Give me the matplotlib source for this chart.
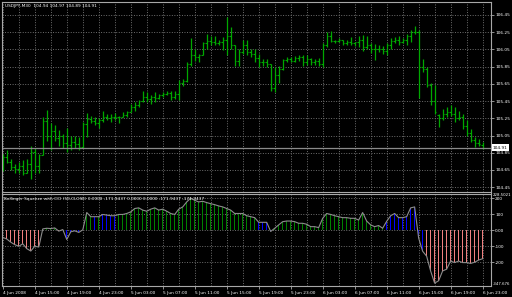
import matplotlib
matplotlib.use("Agg")
import matplotlib.pyplot as plt
import matplotlib.transforms as mtransforms
import numpy as np

symbol_text = "USDJPY,M30  104.94 104.97 104.89 104.91"
indicator_text = ("Bollinger Squeeze with CCI (50,CLOSE) 0.0000 -171.9437 "
                  "0.0000 0.0000 -171.9437 -171.9437")

high = [
    104.84, 104.88, 104.78, 104.72, 104.74, 104.77, 104.78, 104.93, 104.91, 104.84,
    105.26, 105.35, 105.19, 105.17, 105.11, 105.07, 105.14, 105.05, 105.05, 105.03,
    105.21, 105.31, 105.28, 105.26, 105.25, 105.33, 105.30, 105.30, 105.31, 105.28,
    105.32, 105.33, 105.42, 105.44, 105.46, 105.57, 105.56, 105.52, 105.55, 105.53,
    105.55, 105.57, 105.57, 105.57, 105.69, 105.71, 105.90, 106.18, 106.06, 106.00,
    106.14, 106.23, 106.21, 106.21, 106.16, 106.19, 106.43, 106.31, 106.10, 106.06,
    106.16, 106.16, 106.06, 106.06, 106.00, 105.94, 105.94, 105.88, 105.85, 105.86,
    105.94, 105.96, 105.96, 105.97, 105.99, 105.98, 105.98, 105.95, 105.94, 105.95,
    106.12, 106.25, 106.26, 106.16, 106.18, 106.16, 106.16, 106.19, 106.14, 106.20,
    106.22, 106.20, 106.12, 106.11, 106.10, 106.09, 106.12, 106.18, 106.19, 106.21,
    106.18, 106.23, 106.27, 106.32, 106.27, 105.94, 105.85, 105.66, 105.64, 105.30,
    105.36, 105.38, 105.40, 105.38, 105.34, 105.30, 105.23, 105.13, 105.03, 105.01,
    104.97,
]
low = [
    104.64, 104.73, 104.65, 104.61, 104.61, 104.59, 104.61, 104.54, 104.61, 104.62,
    104.82, 104.99, 104.88, 104.99, 104.93, 104.91, 104.86, 104.88, 104.91, 104.88,
    104.90, 105.03, 105.19, 105.17, 105.14, 105.21, 105.23, 105.21, 105.23, 105.19,
    105.26, 105.27, 105.32, 105.34, 105.38, 105.44, 105.44, 105.42, 105.44, 105.47,
    105.50, 105.52, 105.46, 105.47, 105.46, 105.63, 105.67, 105.86, 105.92, 105.90,
    105.98, 106.06, 106.10, 106.10, 106.10, 106.04, 105.98, 106.06, 105.86, 105.86,
    106.00, 105.98, 105.96, 105.90, 105.85, 105.86, 105.85, 105.57, 105.55, 105.66,
    105.81, 105.90, 105.90, 105.90, 105.92, 105.86, 105.87, 105.87, 105.87, 105.86,
    105.84, 106.08, 106.14, 106.12, 106.14, 106.10, 106.10, 106.10, 106.09, 106.08,
    106.03, 106.06, 106.01, 105.93, 106.02, 106.00, 105.98, 106.06, 106.12, 106.10,
    106.12, 106.10, 106.14, 106.23, 105.48, 105.79, 105.61, 105.40, 105.30, 105.15,
    105.23, 105.26, 105.28, 105.21, 105.23, 105.13, 105.05, 104.97, 104.92, 104.93,
    104.89,
]
open_ = [
    104.70, 104.80, 104.74, 104.68, 104.66, 104.70, 104.62, 104.72, 104.86, 104.70,
    104.82, 105.22, 105.05, 105.10, 105.02, 105.05, 104.96, 104.94, 104.98, 104.95,
    104.92, 105.18, 105.24, 105.22, 105.20, 105.23, 105.26, 105.25, 105.27, 105.26,
    105.27, 105.29, 105.32, 105.38, 105.40, 105.45, 105.50, 105.47, 105.50, 105.49,
    105.52, 105.53, 105.54, 105.50, 105.53, 105.66, 105.68, 105.88, 105.98, 105.96,
    105.99, 106.12, 106.15, 106.14, 106.12, 106.14, 106.16, 106.20, 106.10, 105.92,
    106.02, 106.10, 106.02, 106.00, 105.95, 105.90, 105.90, 105.88, 105.60, 105.75,
    105.82, 105.93, 105.94, 105.92, 105.95, 105.96, 105.90, 105.94, 105.90, 105.92,
    105.88, 106.10, 106.20, 106.15, 106.15, 106.16, 106.12, 106.14, 106.12, 106.13,
    106.16, 106.08, 106.10, 106.05, 106.06, 106.05, 106.03, 106.10, 106.15, 106.16,
    106.14, 106.16, 106.20, 106.25, 106.25, 105.85, 105.82, 105.64, 105.45, 105.29,
    105.25, 105.30, 105.32, 105.30, 105.25, 105.26, 105.16, 105.08, 105.00, 104.96,
    104.94,
]
close = [
    104.80, 104.74, 104.68, 104.66, 104.70, 104.62, 104.72, 104.86, 104.70, 104.82,
    105.22, 105.05, 105.10, 105.02, 105.05, 104.96, 104.94, 104.98, 104.95, 104.92,
    105.18, 105.24, 105.22, 105.20, 105.23, 105.26, 105.25, 105.27, 105.26, 105.27,
    105.29, 105.32, 105.38, 105.40, 105.45, 105.50, 105.47, 105.50, 105.49, 105.52,
    105.53, 105.54, 105.50, 105.53, 105.66, 105.68, 105.88, 105.98, 105.96, 105.99,
    106.12, 106.15, 106.14, 106.12, 106.14, 106.16, 106.20, 106.10, 105.92, 106.02,
    106.10, 106.02, 106.00, 105.95, 105.90, 105.90, 105.88, 105.60, 105.75, 105.82,
    105.93, 105.94, 105.92, 105.95, 105.96, 105.90, 105.94, 105.90, 105.92, 105.88,
    106.10, 106.20, 106.15, 106.15, 106.16, 106.12, 106.14, 106.12, 106.13, 106.16,
    106.08, 106.10, 106.05, 106.06, 106.05, 106.03, 106.10, 106.15, 106.16, 106.14,
    106.16, 106.20, 106.25, 106.25, 105.85, 105.82, 105.64, 105.45, 105.32, 105.25,
    105.30, 105.32, 105.30, 105.25, 105.26, 105.16, 105.08, 105.00, 104.96, 104.95,
    104.91,
]
cci = [
    -45, -55, -75, -90, -100, -85, -115, -130, -100, -105,
    8, 12, 10, 14, -6, 4, -58, -10, -4, -14,
    2, 110, 84, 84, 84, 98, 94, 90, 90, 98,
    98, 104, 114, 135, 139, 125, 118, 131, 139, 125,
    131, 118, 104, 98, 131, 145, 176, 200, 186, 176,
    180, 172, 165, 159, 151, 145, 135, 125, 104, 104,
    104, 90, 84, 78, 49, 49, 49, -8, 12, 33,
    53, 57, 57, 53, 43, 43, 37, 22, 22, 16,
    74, 104, 98, 90, 84, 78, 78, 74, 74, 63,
    110, 57, 33, 22, 29, 12, 55, 90, 104, 78,
    78, 84, 139, 145, -49, -131, -162, -254, -330, -315,
    -254, -243, -192, -202, -192, -202, -202, -207, -200, -186,
    -178,
]
cci_state = (
    "rrrrrrrrrr"
    "ggggrgbbbb"
    "gggbgbbbbg"
    "gggggggggg"
    "gggggggggg"
    "gggggggggg"
    "ggggbbbbgg"
    "gggggggggg"
    "gggggggggg"
    "ggggggbbbb"
    "bbbbbbrrrr"
    "rrrrrrrrrr"
    "r"
)

time_labels = ["4 Jun 2008", "4 Jun 15:00", "4 Jun 19:00", "4 Jun 23:00",
               "5 Jun 03:00", "5 Jun 07:00", "5 Jun 11:00", "5 Jun 15:00",
               "5 Jun 19:00", "5 Jun 23:00", "6 Jun 03:00", "6 Jun 07:00",
               "6 Jun 11:00", "6 Jun 15:00", "6 Jun 19:00", "6 Jun 23:00"]
time_label_bars = [0, 8, 16, 24, 32, 40, 48, 56, 64, 72, 80, 88, 96, 104, 112, 120]
price_ticks = [104.45, 104.65, 104.85, 105.05, 105.25, 105.45,
               105.65, 105.85, 106.05, 106.25, 106.45]
cci_ticks = [-200, -100, 0, 100, 200]
cci_tick_labels = ["-200", "-100", "0.00", "100", "200"]
cci_max = 228.5021
cci_min = -347.676
last_price = 104.91

# ---- styling ----
W, H = 512, 297
DPI = 100
FS = 3.1
BG = "black"
FG = "white"
SPINE = "#a8a8a8"
GRID = "#6e6e6e"
BAR_COL = "#00a800"
state_colors = {"r": "#f08080", "g": "#008000", "b": "#0000ff"}

fig = plt.figure(figsize=(W / DPI, H / DPI), dpi=DPI, facecolor=BG)

def px_axes(x0, y0, x1, y1):
    return fig.add_axes([x0 / W, 1 - y1 / H, (x1 - x0) / W, (y1 - y0) / H])

ax1 = px_axes(2, 2, 491, 191.5)
ax2 = px_axes(2, 193.5, 491, 286)

n = len(high)
x = np.arange(n)
xlim = (-0.2, 122.1)

for ax in (ax1, ax2):
    ax.set_facecolor(BG)
    ax.set_xlim(*xlim)
    for s in ax.spines.values():
        s.set_color(SPINE)
        s.set_linewidth(0.8)
    ax.set_xticks(time_label_bars)
    ax.set_xticks(np.arange(4, 121, 8), minor=True)
    ax.grid(True, which="both", axis="both", color=GRID,
            linestyle=(0, (1, 1.6)), linewidth=0.7)
    ax.yaxis.tick_right()
    ax.tick_params(axis="y", which="both", direction="out", length=2,
                   width=0.6, color=SPINE, labelsize=FS, labelcolor=FG, pad=1)
    ax.set_axisbelow(True)

# ---- price panel ----
ax1.vlines(x, low, high, color=BAR_COL, linewidth=0.9)
ax1.hlines(open_, x - 0.42, x, color=BAR_COL, linewidth=0.8)
ax1.hlines(close, x, x + 0.42, color=BAR_COL, linewidth=0.8)
ax1.set_ylim(104.40, 106.60)
ax1.set_yticks(price_ticks)
ax1.set_yticklabels([f"{v:.2f}" for v in price_ticks])
ax1.tick_params(axis="x", which="both", length=0, labelbottom=False)
ax1.axhline(last_price, color="#8a8a8a", linewidth=0.9)
trans1 = mtransforms.blended_transform_factory(ax1.transAxes, ax1.transData)
ax1.text(1.004, last_price, f"{last_price:.2f}", transform=trans1,
         fontsize=FS, color="black", va="center", ha="left",
         bbox=dict(boxstyle="square,pad=0.25", facecolor="white",
                   edgecolor="white", linewidth=0))
ax1.text(0.006, 0.99, symbol_text, transform=ax1.transAxes, fontsize=FS,
         color=FG, va="top", ha="left")

# ---- CCI panel ----
bar_colors = [state_colors[c] for c in cci_state]
ax2.bar(x, cci, width=0.3, color=bar_colors, linewidth=0)
ax2.plot(x, cci, color="#8c8c8c", linewidth=0.8)
ax2.set_ylim(cci_min, cci_max)
ax2.set_yticks(cci_ticks)
ax2.set_yticklabels(cci_tick_labels)
trans2 = mtransforms.blended_transform_factory(ax2.transAxes, ax2.transData)
ax2.text(1.004, cci_max, f"{cci_max:.4f}", transform=trans2, fontsize=2.8,
         color=FG, va="top", ha="left")
ax2.text(1.004, cci_min, f"{cci_min:.3f}", transform=trans2, fontsize=2.8,
         color=FG, va="bottom", ha="left")
ax2.text(0.004, 0.96, indicator_text, transform=ax2.transAxes, fontsize=FS,
         color=FG, va="top", ha="left")
ax2.set_xticklabels(time_labels)
ax2.tick_params(axis="x", which="major", direction="out", length=2.5,
                width=0.6, color=SPINE, labelsize=FS, labelcolor=FG, pad=1.2)
ax2.tick_params(axis="x", which="minor", length=0)
for lab in ax2.get_xticklabels():
    lab.set_horizontalalignment("left")

fig.savefig("out.png", dpi=DPI, facecolor=BG)
